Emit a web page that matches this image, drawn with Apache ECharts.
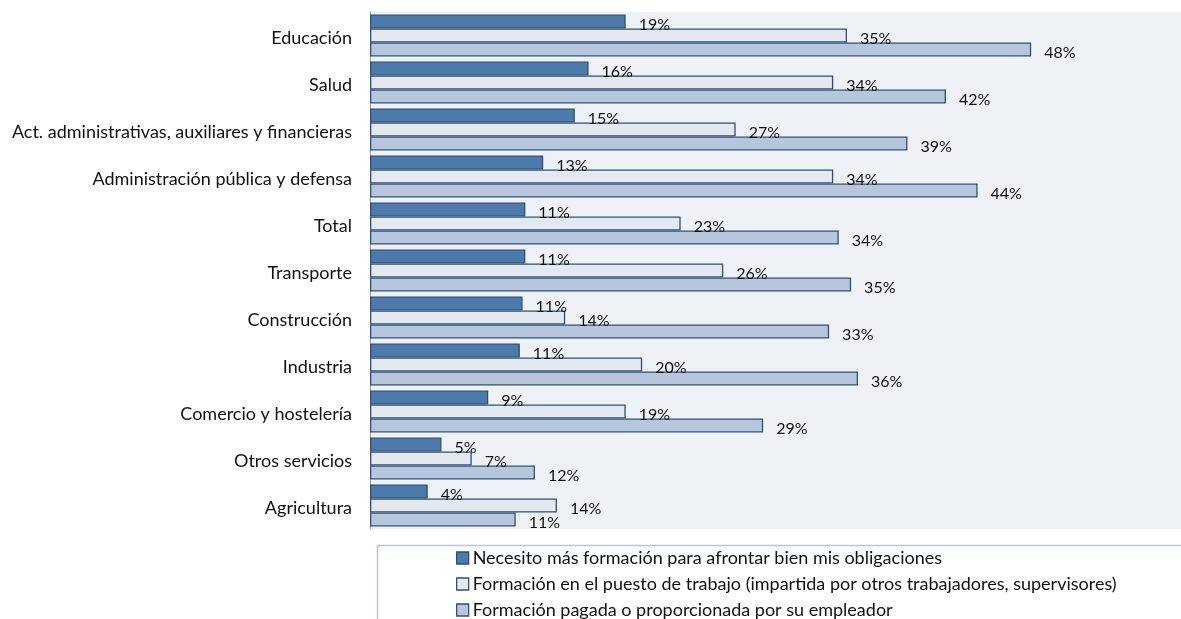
<!DOCTYPE html>
<html><head><meta charset="utf-8">
<script src="https://cdn.jsdelivr.net/npm/echarts@6/dist/echarts.min.js"></script>
<style>html,body{margin:0;padding:0;background:#fff}#c{width:1181px;height:619px}</style>
</head><body><div id="c"></div>
<script>
const categories = ["Educación","Salud","Act. administrativas, auxiliares y financieras","Administración pública y defensa","Total","Transporte","Construcción","Industria","Comercio y hostelería","Otros servicios","Agricultura"];
const seriesNames = ["Necesito más formación para afrontar bien mis obligaciones","Formación en el puesto de trabajo (impartida por otros trabajadores, supervisores)","Formación pagada o proporcionada por su empleador"];
const necesito = [18.6,15.9,14.9,12.6,11.3,11.3,11.1,10.9,8.6,5.2,4.2];
const puesto = [34.7,33.7,26.6,33.7,22.6,25.7,14.2,19.8,18.6,7.4,13.6];
const pagada = [48.1,41.9,39.1,44.2,34.1,35.0,33.4,35.5,28.6,12.0,10.6];
const colors = ["#4e79ab","#e3e8f1","#b8c6dd"];
const font = "Lato, 'Open Sans', sans-serif";
const chart = echarts.init(document.getElementById('c'));
function mk(name, data, color){
  return {name, type:'bar', data, barGap:'0%', barCategoryGap:'10.6%',
    itemStyle:{color, borderColor:'#2e5078', borderWidth:1.3},
    label:{show:true, position:'right', distance:13, offset:[0,3], color:'#111', fontFamily:font, fontSize:16,
      formatter:p=>Math.round(p.value)+'%'}};
}
chart.setOption({
  animation:false,
  textStyle:{fontFamily:font},
  grid:{left:370, top:12, right:0, bottom:90, show:true, backgroundColor:'#eef1f5', borderWidth:0},
  xAxis:{type:'value', min:0, max:59, show:false},
  yAxis:{type:'category', data:categories, inverse:true,
    axisLine:{show:true, lineStyle:{color:'#9a9a9a', width:1}}, axisTick:{show:false},
    axisLabel:{color:'#111', fontSize:18, fontFamily:font, margin:18,
      formatter:v=>'{a|'+v+'}', rich:{a:{fontSize:18, fontFamily:font, color:'#111', padding:[6,0,0,0]}}}},
  legend:{orient:'vertical', left:451, top:544, height:200, itemWidth:12, itemHeight:12, itemGap:8, itemStyle:{borderWidth:1.3}, icon:'rect',
    textStyle:{fontSize:18, color:'#111', fontFamily:font, padding:[0,0,0,-1]}, data:seriesNames},
  graphic:[{type:'rect', left:375, top:543, shape:{width:900, height:200}, style:{fill:'none', stroke:'#b9c7da', lineWidth:1.5}, silent:true}],
  series:[mk(seriesNames[0], necesito, colors[0]), mk(seriesNames[1], puesto, colors[1]), mk(seriesNames[2], pagada, colors[2])]
});
</script></body></html>
